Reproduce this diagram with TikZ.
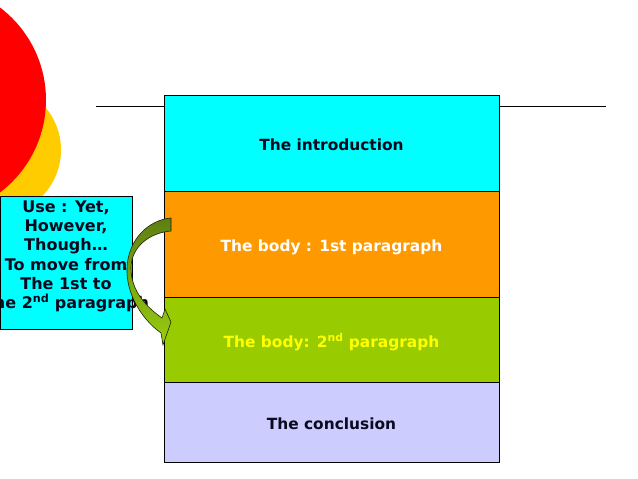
\documentclass[tikz,border=0pt]{standalone}
\usepackage{fontspec}
\setmainfont{DejaVu Sans}
\definecolor{cyanbox}{HTML}{00FFFF}
\definecolor{orangebox}{HTML}{FF9900}
\definecolor{greenbox}{HTML}{99CC00}
\definecolor{lavbox}{HTML}{CCCCFF}
\definecolor{redc}{HTML}{FF0000}
\definecolor{yellowc}{HTML}{FFCC00}
\definecolor{yeltext}{HTML}{FFFF00}
\definecolor{olivetop}{HTML}{5E7F12}
\definecolor{olivebot}{HTML}{9ACD10}
\definecolor{darktext}{HTML}{0A0A1E}
\begin{document}
\begin{tikzpicture}[x=1pt,y=-1pt,
  partbox/.style={draw=black, line width=0.8pt, minimum width=335pt, inner sep=0pt,
    font=\bfseries\fontsize{15.4}{18}\selectfont, text depth=0pt, text height=15pt},
  notebox/.style={draw=black, line width=0.8pt, fill=cyanbox, minimum width=132pt, minimum height=133pt, inner sep=0pt},
  notetext/.style={align=center, font=\bfseries\fontsize{16}{19.3}\selectfont, inner sep=0pt, text=darktext}]
\clip (0,0) rectangle (638,479);
\fill[white] (0,0) rectangle (638,479);
% circles
\fill[yellowc] (-5,150) circle (66);
\fill[redc] (-70,100) circle (116);
% horizontal rule
\draw[line width=0.8pt] (96,106) coordinate (hl) -- (606,106) coordinate (hr);
% parts
\node[partbox, fill=cyanbox, minimum height=96pt, text=darktext] (intro) at (331.5,143) {The introduction};
\node[partbox, fill=orangebox, minimum height=106pt, text=white] (body1) at (331.5,244) {The body : 1st paragraph};
\node[partbox, fill=greenbox, minimum height=85pt, text=yeltext] (body2) at (331.5,339.5) {The body: 2\textsuperscript{nd} paragraph};
\node[partbox, fill=lavbox, minimum height=80pt, text=darktext] (concl) at (331.5,422) {The conclusion};
% note box
\node[notebox] (note) at (66,262.5) {};
\node[notetext] (notet) at (66,256.5) {Use : Yet,\\However,\\Though\dots\\To move from\\The 1st to\\The 2\textsuperscript{nd} paragraph};
% curved arrow
\shade[top color=olivetop, bottom color=olivebot, draw=black!70!olivetop, line width=0.6pt]
  (171,218) .. controls (148,220) and (128,240) .. (127,268)
  .. controls (126,292) and (140,318) .. (161,333)
  -- (163,345) -- (171,322) -- (165,309) -- (162,318)
  .. controls (145,306) and (131,290) .. (131,268)
  .. controls (131,248) and (148,233) .. (171,231) -- cycle;
\end{tikzpicture}
\end{document}
